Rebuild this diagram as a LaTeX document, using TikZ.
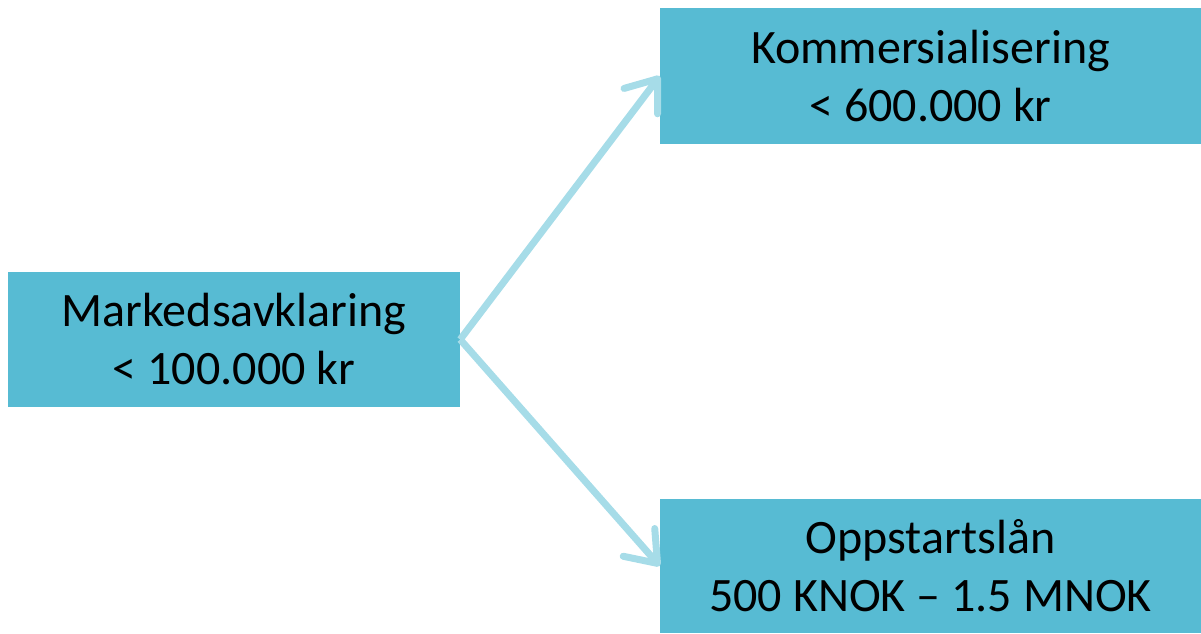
\documentclass[tikz,border=0pt]{standalone}
\usepackage{fontspec}
\setmainfont{Carlito}
\usetikzlibrary{arrows.meta}
\definecolor{boxblue}{HTML}{57BBD3}
\definecolor{arrowblue}{HTML}{A6DCE8}

\begin{document}
\begin{tikzpicture}[x=1pt,y=-1pt,
  box/.style={fill=boxblue,inner sep=0pt,align=center,font=\fontsize{48}{58}\selectfont},
  link/.style={arrowblue,line width=7pt,-{Straight Barb[length=28pt,width=42pt,round]}}]
  \useasboundingbox (0,0) rectangle (1201,633);
  \node[box,minimum width=452pt,minimum height=135pt] (mark) at (234,339.5) {Markedsavklaring\\< 100.000 kr};
  \node[box,minimum width=541pt,minimum height=136pt] (komm) at (930.5,76) {Kommersialisering\\< 600.000 kr};
  \node[box,minimum width=541pt,minimum height=134pt] (opps) at (930.5,566) {Oppstartslån\\500 KNOK -- 1.5 MNOK};
  \draw[link] (mark.east) -- (komm.west);
  \draw[link] (mark.east) -- (opps.west);
\end{tikzpicture}
\end{document}
